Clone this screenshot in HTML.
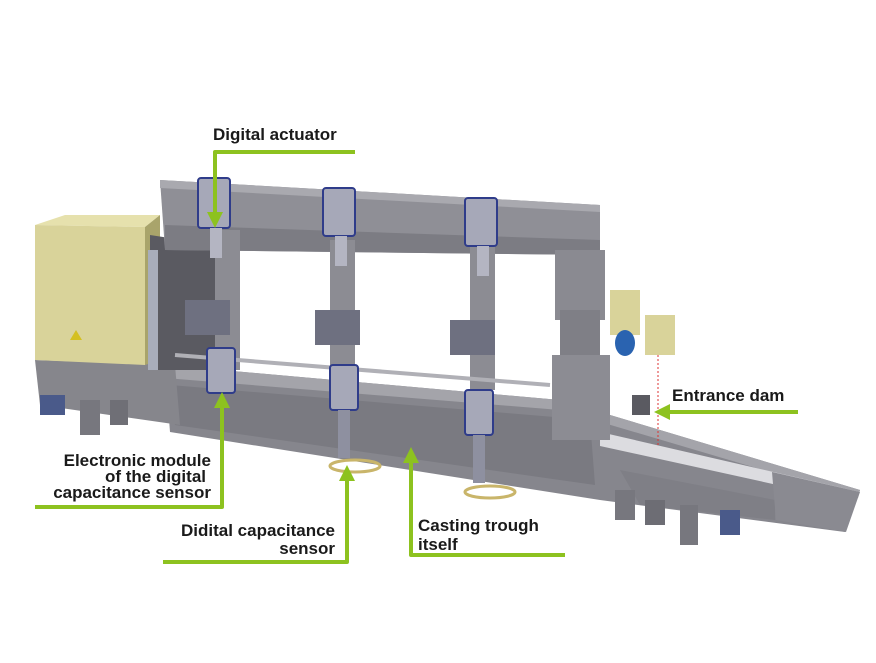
<!DOCTYPE html>
<html><head><meta charset="utf-8"><style>
html,body{margin:0;padding:0;background:#fff;width:876px;height:663px;overflow:hidden}
svg{display:block}
text{font-family:"Liberation Sans",sans-serif;font-size:17px;font-weight:bold;fill:#1a1a1a}
</style></head><body>
<svg width="876" height="663" viewBox="0 0 876 663" xmlns="http://www.w3.org/2000/svg">
<defs>
<marker id="ah" markerWidth="4" markerHeight="4" refX="2" refY="2" orient="auto" markerUnits="strokeWidth"><path d="M0,0 L4,2 L0,4 Z" fill="#8dc21f"/></marker>
</defs>
<!-- trough (continuous) -->
<polygon points="165,365 560,400 860,490 845,532 600,500 170,432" fill="#86868d"/>
<polygon points="165,365 560,400 860,490 858,498 560,410 165,378" fill="#a4a4aa"/>
<polygon points="600,432 860,492 855,502 600,446" fill="#dcdce0"/>
<polygon points="170,385 590,420 595,485 175,425" fill="#7a7a81"/>
<polygon points="620,470 775,500 775,520 640,505" fill="#7f7f86"/>
<polygon points="772,472 860,492 846,532 776,520" fill="#8a8a91"/>
<!-- legs right -->
<rect x="615" y="490" width="20" height="30" fill="#77777e"/>
<rect x="645" y="500" width="20" height="25" fill="#6d6d74"/>
<rect x="680" y="505" width="18" height="40" fill="#77777e"/>
<rect x="720" y="510" width="20" height="25" fill="#4a5a8a"/>
<!-- left base -->
<polygon points="35,360 175,365 180,425 40,405" fill="#86868c"/>
<rect x="40" y="395" width="25" height="20" fill="#4a5a8a"/>
<rect x="80" y="400" width="20" height="35" fill="#77777e"/>
<rect x="110" y="400" width="18" height="25" fill="#6f6f76"/>
<!-- yellow cabinet -->
<polygon points="35,225 65,215 160,215 145,227" fill="#e6e1ad"/>
<polygon points="35,225 145,227 145,365 35,360" fill="#d9d39a"/>
<polygon points="145,227 160,215 160,360 145,365" fill="#a9a46b"/>
<polygon points="70,340 76,330 82,340" fill="#d4c020"/>
<!-- left frame -->
<polygon points="150,235 215,245 215,370 150,370" fill="#5a5a61"/>
<rect x="148" y="250" width="10" height="120" fill="#a8adbb"/>
<!-- top beam -->
<polygon points="160,180 600,205 600,255 165,250" fill="#8f8f96"/>
<polygon points="160,180 600,205 600,212 160,188" fill="#a9a9af"/>
<polygon points="165,225 600,240 600,255 165,250" fill="#7c7c83"/>
<!-- columns -->
<rect x="215" y="230" width="25" height="140" fill="#8c8c93"/>
<rect x="330" y="240" width="25" height="140" fill="#8c8c93"/>
<rect x="470" y="245" width="25" height="145" fill="#8c8c93"/>
<!-- brackets -->
<rect x="185" y="300" width="45" height="35" fill="#6e7080"/>
<rect x="315" y="310" width="45" height="35" fill="#6e7080"/>
<rect x="450" y="320" width="45" height="35" fill="#6e7080"/>
<!-- rail -->
<line x1="175" y1="355" x2="550" y2="385" stroke="#b0b0b6" stroke-width="4"/>
<!-- actuators -->
<rect x="198" y="178" width="32" height="50" rx="3" fill="#a6a8b8" stroke="#2f3c8a" stroke-width="2"/>
<rect x="323" y="188" width="32" height="48" rx="3" fill="#a6a8b8" stroke="#2f3c8a" stroke-width="2"/>
<rect x="465" y="198" width="32" height="48" rx="3" fill="#a6a8b8" stroke="#2f3c8a" stroke-width="2"/>
<rect x="210" y="228" width="12" height="30" fill="#b4b5c2"/>
<rect x="335" y="236" width="12" height="30" fill="#b4b5c2"/>
<rect x="477" y="246" width="12" height="30" fill="#b4b5c2"/>
<!-- modules -->
<rect x="207" y="348" width="28" height="45" rx="3" fill="#a6a8b8" stroke="#2f3c8a" stroke-width="2"/>
<rect x="330" y="365" width="28" height="45" rx="3" fill="#a6a8b8" stroke="#2f3c8a" stroke-width="2"/>
<rect x="465" y="390" width="28" height="45" rx="3" fill="#a6a8b8" stroke="#2f3c8a" stroke-width="2"/>
<rect x="338" y="410" width="12" height="48" fill="#8e90a0"/>
<rect x="473" y="435" width="12" height="48" fill="#8e90a0"/>
<ellipse cx="355" cy="466" rx="25" ry="6" fill="none" stroke="#c9b56a" stroke-width="3"/>
<ellipse cx="490" cy="492" rx="25" ry="6" fill="none" stroke="#c9b56a" stroke-width="3"/>
<!-- right column box -->
<rect x="555" y="250" width="50" height="70" fill="#8a8a91"/>
<rect x="610" y="290" width="30" height="45" fill="#d9d39a"/>
<rect x="645" y="315" width="30" height="40" fill="#d9d39a"/>
<rect x="560" y="310" width="40" height="50" fill="#7f7f86"/>
<rect x="552" y="355" width="58" height="85" fill="#8c8c93"/>
<ellipse cx="625" cy="343" rx="10" ry="13" fill="#2a63b0"/>
<rect x="632" y="395" width="18" height="20" fill="#5a5a61"/>
<line x1="658" y1="355" x2="658" y2="445" stroke="#d33" stroke-width="1" stroke-dasharray="2,2"/>
<!-- green callouts -->
<g fill="none" stroke="#8dc21f" stroke-width="4" stroke-linejoin="round">
<polyline points="355,152 215,152 215,220" marker-end="url(#ah)"/>
<polyline points="798,412 662,412" marker-end="url(#ah)"/>
<polyline points="35,507 222,507 222,400" marker-end="url(#ah)"/>
<polyline points="163,562 347,562 347,473" marker-end="url(#ah)"/>
<polyline points="565,555 411,555 411,455" marker-end="url(#ah)"/>
</g>
<!-- labels -->
<text x="213" y="140">Digital actuator</text>
<text x="672" y="401">Entrance dam</text>
<text x="211" y="466" text-anchor="end">Electronic module</text>
<text x="206" y="482" text-anchor="end">of the digital</text>
<text x="211" y="498" text-anchor="end">capacitance sensor</text>
<text x="335" y="536" text-anchor="end">Didital capacitance</text>
<text x="335" y="554" text-anchor="end">sensor</text>
<text x="418" y="531">Casting trough</text>
<text x="418" y="550">itself</text>
</svg>
</body></html>
